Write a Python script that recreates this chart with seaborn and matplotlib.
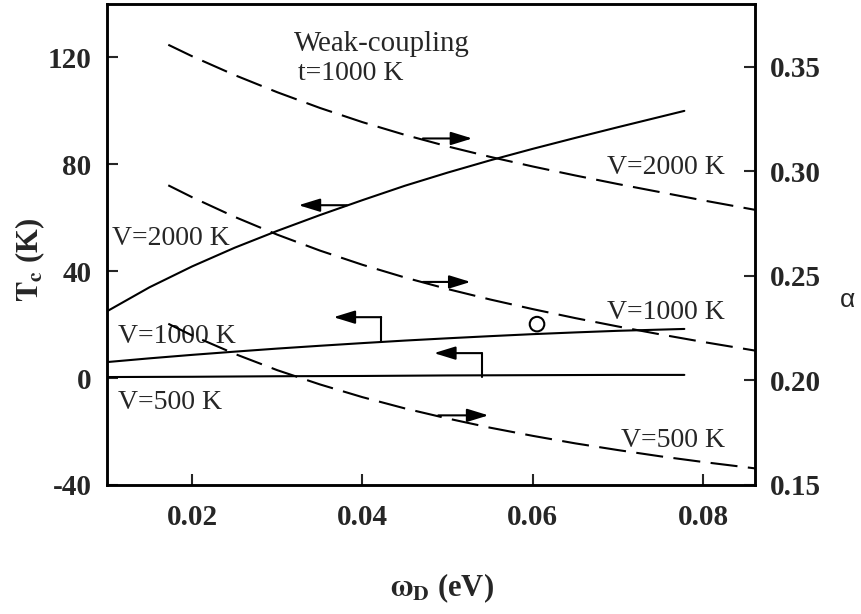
import numpy as np
import pandas as pd
import matplotlib
matplotlib.use("Agg")
import matplotlib.pyplot as plt
import seaborn as sns

# ---------------- data ----------------
x_solid = [0.010, 0.015, 0.020, 0.025, 0.030, 0.035, 0.040, 0.045, 0.050, 0.055, 0.060, 0.065, 0.070, 0.0778]
tc_v2000 = [25.0, 34.0, 41.8, 48.8, 55.1, 61.0, 66.6, 72.0, 76.9, 81.5, 85.8, 89.9, 93.9, 100.0]
tc_v1000 = [6.0, 7.4, 8.7, 9.9, 11.05, 12.1, 13.1, 14.05, 14.9, 15.7, 16.45, 17.1, 17.7, 18.4]
tc_v500 = [0.4, 0.45, 0.5, 0.6, 0.7, 0.75, 0.8, 0.9, 1.0, 1.05, 1.1, 1.15, 1.2, 1.2]

x_dash = [0.0172, 0.020, 0.025, 0.030, 0.035, 0.040, 0.045, 0.050, 0.055, 0.060, 0.065, 0.070, 0.075, 0.080, 0.0862]
alpha_v2000 = [0.3605, 0.3550, 0.3460, 0.3378, 0.3303, 0.3235, 0.3174, 0.3119, 0.3069, 0.3023, 0.2980, 0.2939, 0.2900, 0.2861, 0.2815]
alpha_v1000 = [0.2933, 0.2876, 0.2782, 0.2697, 0.2621, 0.2553, 0.2492, 0.2437, 0.2387, 0.2341, 0.2298, 0.2258, 0.2220, 0.2184, 0.2142]
alpha_v500 = [0.2271, 0.2215, 0.2127, 0.2049, 0.1981, 0.1920, 0.1866, 0.1818, 0.1774, 0.1735, 0.1699, 0.1667, 0.1637, 0.1610, 0.1579]

exp_x = [0.0605]
exp_tc = [20.2]

x_ticks = [0.02, 0.04, 0.06, 0.08]
x_ticklabels = ["0.02", "0.04", "0.06", "0.08"]
tc_ticks = [-40, 0, 40, 80, 120]
tc_ticklabels = ["-40", "0", "40", "80", "120"]
alpha_ticks = [0.15, 0.20, 0.25, 0.30, 0.35]
alpha_ticklabels = ["0.15", "0.20", "0.25", "0.30", "0.35"]

# ---------------- style ----------------
sns.set_theme(style="white")
plt.rcParams["font.family"] = ["Liberation Serif", "DejaVu Serif"]
plt.rcParams["mathtext.fontset"] = "stix"

fig = plt.figure(figsize=(8.62, 6.14), dpi=100)
ax = fig.add_axes([0.1241, 0.2101, 0.7518, 0.7834])
ax2 = ax.twinx()

LW = 1.5
dash = (0, (13, 5))

# solid Tc curves (left axis)
for y in (tc_v2000, tc_v1000, tc_v500):
    sns.lineplot(x=x_solid, y=y, ax=ax, color="black", lw=LW, sort=False)

# experimental point
sns.scatterplot(x=exp_x, y=exp_tc, ax=ax, marker="o", s=110, facecolor="none",
                edgecolor="black", linewidth=1.5, zorder=5)

# dashed alpha curves (right axis)
for y in (alpha_v2000, alpha_v1000, alpha_v500):
    sns.lineplot(x=x_dash, y=y, ax=ax2, color="black", lw=LW, linestyle=dash, sort=False)

# axes limits / ticks
ax.set_xlim(0.01, 0.0861)
ax.set_ylim(-40, 140)
ax2.set_ylim(0.15, 0.38)

ax.set_xticks(x_ticks)
ax.set_xticklabels(x_ticklabels)
ax.set_yticks(tc_ticks)
ax.set_yticklabels(tc_ticklabels)
ax2.set_yticks(alpha_ticks)
ax2.set_yticklabels(alpha_ticklabels)

for lab in ax.get_xticklabels() + ax.get_yticklabels() + ax2.get_yticklabels():
    lab.set_fontsize(21)
    lab.set_fontweight("bold")

ax.tick_params(axis="x", direction="in", length=8, width=1.5, pad=14, bottom=True, top=False)
ax.tick_params(axis="y", direction="in", length=8, width=1.5, pad=11, left=True, right=False)
ax2.tick_params(axis="y", direction="in", length=8, width=1.5, pad=11, right=True, left=False)

for a in (ax, ax2):
    for s in a.spines.values():
        s.set_linewidth(1.8)
        s.set_color("black")

ax.set_xlabel("")
ax.set_ylabel("")
ax2.set_ylabel("")

# axis labels
ax.text(-0.118, 0.468, r"$\mathbf{T}_{\mathbf{c}}$ (K)", transform=ax.transAxes, rotation=90,
        ha="center", va="center", fontsize=22, fontweight="bold")
ax.text(0.517, -0.215, r"$\mathbf{\omega}_{\mathbf{D}}$ (eV)", transform=ax.transAxes,
        ha="center", va="center", fontsize=22, fontweight="bold")
ax.text(1.143, 0.385, "α", transform=ax.transAxes, ha="center", va="center",
        fontsize=19, family="Liberation Sans")

# in-plot labels
tfs = 20
ax.text(0.0319, 125.2, "Weak-coupling", ha="left", va="center", fontsize=20.8)
ax.text(0.0324, 114.0, "t=1000 K", ha="left", va="center", fontsize=tfs)
ax.text(0.0106, 52.3, "V=2000 K", ha="left", va="center", fontsize=tfs)
ax.text(0.0113, 15.7, "V=1000 K", ha="left", va="center", fontsize=tfs)
ax.text(0.0113, -9.3, "V=500 K", ha="left", va="center", fontsize=tfs)
ax.text(0.0825, 78.9, "V=2000 K", ha="right", va="center", fontsize=tfs)
ax.text(0.0826, 24.7, "V=1000 K", ha="right", va="center", fontsize=tfs)
ax.text(0.0826, -23.2, "V=500 K", ha="right", va="center", fontsize=tfs)

# arrows
ap = dict(arrowstyle="-|>,head_length=0.65,head_width=0.2", color="black", lw=1.5,
          mutation_scale=20, shrinkA=0, shrinkB=0)

# Tc-axis arrows (pointing left)
ax.annotate("", xy=(0.0325, 64.7), xytext=(0.0382, 64.7), arrowprops=ap)
ax.plot([0.0422, 0.0422], [13.6, 22.8], color="black", lw=1.5)
ax.annotate("", xy=(0.0366, 22.8), xytext=(0.0422, 22.8), arrowprops=ap)
ax.plot([0.0540, 0.0540], [0.6, 9.35], color="black", lw=1.5)
ax.annotate("", xy=(0.0484, 9.35), xytext=(0.0540, 9.35), arrowprops=ap)

# alpha-axis arrows (pointing right)
ax2.annotate("", xy=(0.0529, 0.3157), xytext=(0.0471, 0.3157), arrowprops=ap)
ax2.annotate("", xy=(0.0527, 0.2471), xytext=(0.0471, 0.2471), arrowprops=ap)
ax2.annotate("", xy=(0.0548, 0.1833), xytext=(0.0489, 0.1833), arrowprops=ap)

fig.savefig("out.png", dpi=100)
